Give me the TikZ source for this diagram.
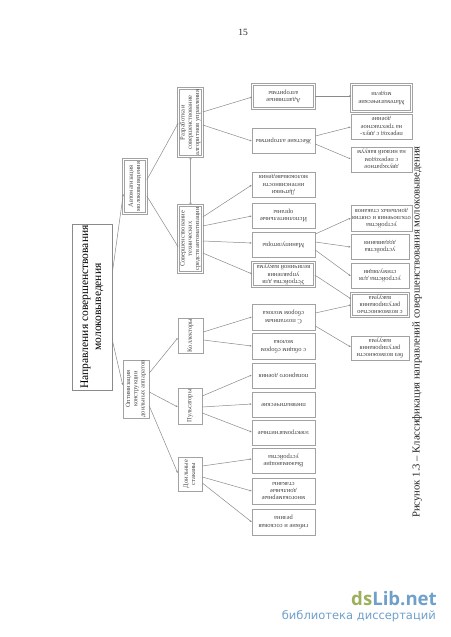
\documentclass[tikz,border=0pt]{standalone}
\usepackage{fontspec}
\setmainfont{Liberation Serif}
\newfontfamily\wmfont{DejaVu Sans}
\newfontfamily\dsfont{Open Sans}
\usetikzlibrary{calc,arrows.meta}
\definecolor{linegray}{HTML}{8A8A8A}
\definecolor{boxgray}{HTML}{A2A2A2}
\definecolor{txtgray}{HTML}{484848}
\definecolor{wmblue}{HTML}{6FA0CB}
\definecolor{wmgreen}{HTML}{9CB05C}
\tikzset{
  boxn/.style={draw=boxgray,line width=0.6pt,fill=white,inner sep=0pt,text=txtgray,font=\fontsize{6.5}{7.2}\selectfont,align=center},
  dbl/.style={boxn,line width=0.5pt,double=white,double distance=1.3pt},
  mainbox/.style={draw=linegray,line width=0.6pt,inner sep=0pt,text=black,font=\fontsize{11.5}{13}\selectfont},
  conn/.style={draw=linegray,line width=0.5pt,-{Stealth[length=2.2pt,width=1.8pt]}},
  biconn/.style={draw=boxgray,line width=0.9pt,{Stealth[length=2.5pt,width=2.5pt]}-{Stealth[length=2.5pt,width=2.5pt]}},
  caption/.style={inner sep=0pt,text=black!85,font=\fontsize{10.65}{13}\selectfont},
}
\newcommand\bx[7]{% name, style, x1,y1,x2,y2, text
  \pgfmathsetmacro\bw{#5-#3}\pgfmathsetmacro\bh{#6-#4}
  \pgfmathsetmacro\bcx{(#5+#3)/2}\pgfmathsetmacro\bcy{(#6+#4)/2}
  \node[#2,minimum width=\bw pt,minimum height=\bh pt] (#1) at (\bcx,\bcy) {#7};}
\newcommand\rt[2]{\rotatebox{#1}{\begin{tabular}{@{}c@{}}#2\end{tabular}}}
\newcommand\cn[4]{\draw[conn] (#1.east |- 0,#2) -- (#3.west |- 0,#4);}
\begin{document}
\begin{tikzpicture}[x=1pt,y=-1pt]
\useasboundingbox[fill=white] (0,0) rectangle (450,637);
\node[caption,font=\fontsize{9.5}{11}\selectfont] (pagenum) at (243,32) {15};
\bx{main}{mainbox}{72}{224}{112}{390}{\rt{90}{Направления совершенствования\\молоковыведения}}
\bx{avt}{dbl}{123.5}{159.5}{146.5}{213.5}{\rt{90}{Автоматизация\\молоковыведения}}
\bx{opt}{boxn}{123}{360}{149}{418}{\rt{90}{Оптимизация\\конструкции\\доильных аппаратов}}
\bx{razr}{dbl}{178.5}{88.5}{202.5}{156.5}{\rt{90}{Разработка и\\совершенствование\\алгоритмов управления}}
\bx{sov}{dbl}{178.5}{205.5}{202.5}{272.5}{\rt{90}{Совершенствование\\технических\\средств автоматизации}}
\bx{koll}{boxn}{178}{318}{203}{353}{\rt{90}{Коллекторы}}
\bx{puls}{boxn}{178}{388}{202}{424}{\rt{90}{Пульсаторы}}
\bx{doil}{boxn}{178}{457}{202}{491}{\rt{90}{Доильные\\стаканы}}
\bx{adapt}{dbl}{252.5}{84.5}{314.5}{108.5}{\rt{180}{Адаптивные\\алгоритмы}}
\bx{zhest}{boxn}{252}{128}{315}{153}{\rt{180}{Жесткие алгоритмы}}
\bx{dat}{boxn}{252}{172}{315}{197}{\rt{180}{Датчики\\интенсивности\\молоковыведения}}
\bx{isp}{boxn}{252}{203}{315}{228}{\rt{180}{Исполнительные\\органы}}
\bx{man}{boxn}{252}{232}{315}{257}{\rt{180}{Манипуляторы}}
\bx{ustr}{dbl}{252.5}{262.5}{314.5}{286.5}{\rt{180}{Устройства для\\управления\\величиной вакуума}}
\bx{poet}{boxn}{252}{304}{315}{330}{\rt{180}{С поэтапным\\сбором молока}}
\bx{obsh}{boxn}{252}{333}{315}{359}{\rt{180}{с общим сбором\\молока}}
\bx{pop}{boxn}{252}{363}{315}{388}{\rt{180}{попарного доения}}
\bx{pnev}{boxn}{252}{392}{315}{417}{\rt{180}{пневматические}}
\bx{elm}{boxn}{252}{420}{315}{445}{\rt{180}{электромагнитные}}
\bx{vyzh}{boxn}{252}{448}{315}{473}{\rt{180}{Выжимающие\\устройства}}
\bx{mnog}{boxn}{252}{478}{315}{504}{\rt{180}{многокамерные\\доильные\\стаканы}}
\bx{gib}{boxn}{252}{509}{315}{535}{\rt{180}{гибкие и сосковая\\резина}}
\bx{mat}{dbl}{351.5}{84.5}{411.5}{111.5}{\rt{180}{Математические\\модели}}
\bx{per}{boxn}{351}{114}{412}{139}{\rt{180}{переход с двух-\\на трехтактное\\доение}}
\bx{dvuh}{boxn}{351}{147}{412}{172}{\rt{180}{двухкратное\\с переходом\\на низкий вакуум}}
\bx{otkl}{boxn}{351}{205}{412}{231}{\rt{180}{устройства\\отключения и снятия\\доильных стаканов}}
\bx{dod}{boxn}{351}{234}{409}{259}{\rt{180}{устройства\\додаивания}}
\bx{stim}{boxn}{351}{263}{409}{288}{\rt{180}{устройства для\\стимуляции}}
\bx{vozm}{dbl}{351.5}{293.5}{408.5}{316.5}{\rt{180}{с возможностью\\регулирования\\вакуума}}
\bx{bez}{boxn}{351}{336}{409}{360}{\rt{180}{без возможности\\регулирования\\вакуума}}
\cn{main}{273}{avt}{194}
\cn{main}{340}{opt}{385}
\cn{avt}{180}{razr}{123}
\cn{avt}{196}{sov}{247}
\draw[biconn] (razr.south) -- (sov.north);
\cn{opt}{373}{koll}{338}
\cn{opt}{392}{puls}{407}
\cn{opt}{406}{doil}{473}
\cn{razr}{112}{adapt}{97}
\cn{razr}{125}{zhest}{141}
\cn{sov}{217}{dat}{185}
\cn{sov}{226}{isp}{216}
\cn{sov}{241}{man}{243}
\cn{sov}{253}{ustr}{274}
\cn{koll}{332}{poet}{317}
\cn{koll}{340}{obsh}{346}
\cn{puls}{396}{pop}{375}
\cn{puls}{407}{pnev}{404}
\cn{puls}{413}{elm}{432}
\cn{doil}{466}{vyzh}{459}
\cn{doil}{477}{mnog}{491}
\cn{doil}{483}{gib}{522}
\cn{adapt}{96}{mat}{96}
\cn{zhest}{136}{per}{127}
\cn{zhest}{144}{dvuh}{159}
\cn{man}{234}{otkl}{218}
\cn{man}{242}{dod}{247}
\cn{man}{250}{stim}{276}
\cn{ustr}{275}{vozm}{299}
\cn{poet}{313}{vozm}{305}
\cn{poet}{326}{bez}{347}
\node[caption] (cap) at (417,332) {\rotatebox{90}{Рисунок 1.3 – Классификация направлений совершенствования молоковыведения}};
\node[inner sep=0pt,anchor=east,font=\dsfont\bfseries\fontsize{18.6}{22}\selectfont] (wm) at (437,599) {\textcolor{wmgreen}{ds}\textcolor{wmblue}{Lib.net}};
\node[inner sep=0pt,anchor=east,text=wmblue,font=\wmfont\fontsize{11.5}{14}\selectfont] (wm2) at (436,616) {библиотека диссертаций};
\end{tikzpicture}
\end{document}
